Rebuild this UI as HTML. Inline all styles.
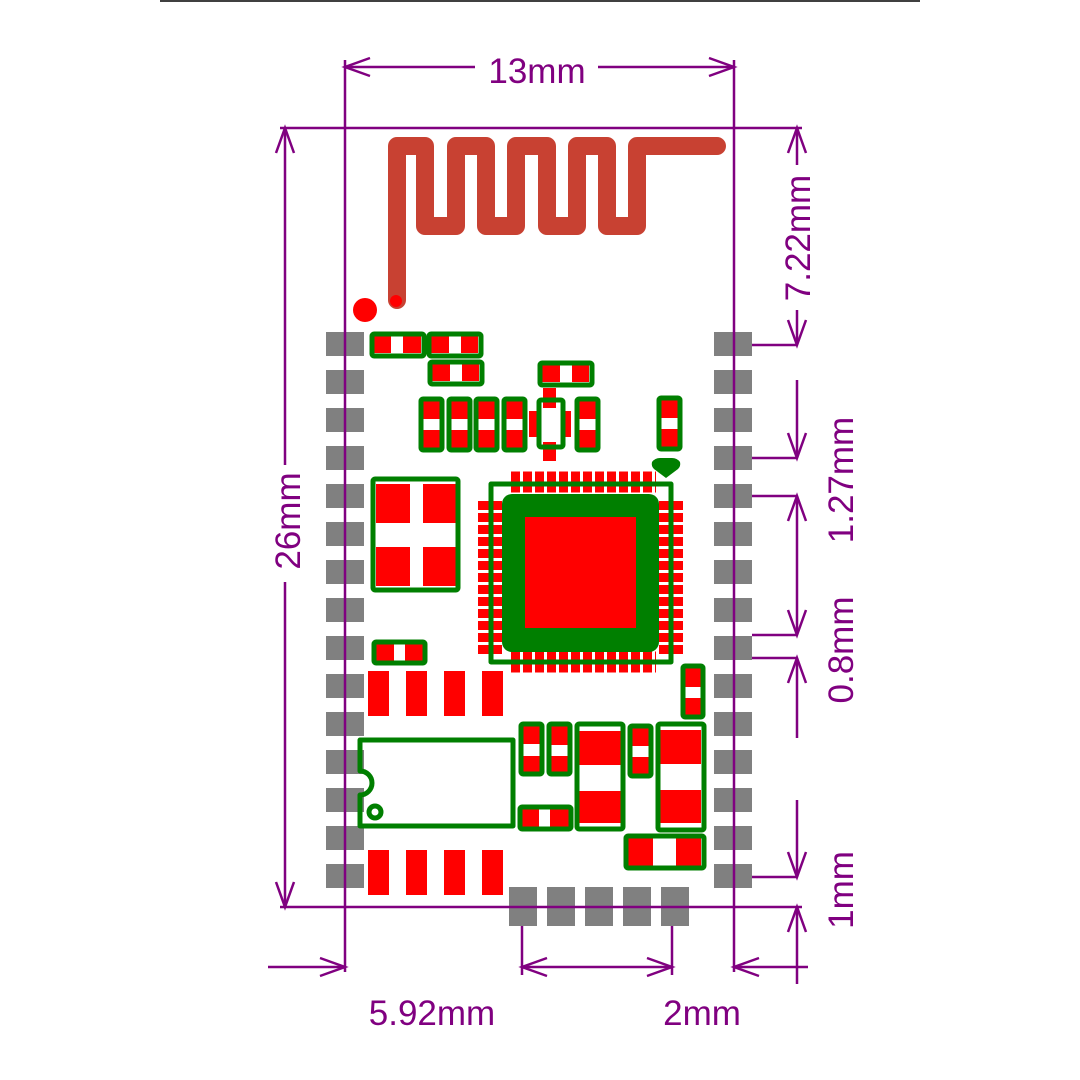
<!DOCTYPE html>
<html><head><meta charset="utf-8"><style>html,body{margin:0;padding:0;background:#fff}svg{display:block}</style></head><body>
<svg width="1080" height="1080" viewBox="0 0 1080 1080" xmlns="http://www.w3.org/2000/svg">
<rect width="1080" height="1080" fill="#fff"/>
<line x1="160" y1="1" x2="920" y2="1" stroke="#000" stroke-width="1.5"/>

<path d="M397 300 V146 H425 V226 H456 V146 H486 V226 H516 V146 H547 V226 H577 V146 H607 V226 H637 V146 H717" fill="none" stroke="#c84132" stroke-width="18" stroke-linecap="round" stroke-linejoin="round"/>
<circle cx="365" cy="310" r="12" fill="#f00"/>
<circle cx="396" cy="301" r="6" fill="#f00"/>

<g fill="#808080">
<rect x="326" y="332" width="38" height="24"/><rect x="326" y="370" width="38" height="24"/><rect x="326" y="408" width="38" height="24"/><rect x="326" y="446" width="38" height="24"/><rect x="326" y="484" width="38" height="24"/><rect x="326" y="522" width="38" height="24"/><rect x="326" y="560" width="38" height="24"/><rect x="326" y="598" width="38" height="24"/><rect x="326" y="636" width="38" height="24"/><rect x="326" y="674" width="38" height="24"/><rect x="326" y="712" width="38" height="24"/><rect x="326" y="750" width="38" height="24"/><rect x="326" y="788" width="38" height="24"/><rect x="326" y="826" width="38" height="24"/><rect x="326" y="864" width="38" height="24"/>
<rect x="714" y="332" width="38" height="24"/><rect x="714" y="370" width="38" height="24"/><rect x="714" y="408" width="38" height="24"/><rect x="714" y="446" width="38" height="24"/><rect x="714" y="484" width="38" height="24"/><rect x="714" y="522" width="38" height="24"/><rect x="714" y="560" width="38" height="24"/><rect x="714" y="598" width="38" height="24"/><rect x="714" y="636" width="38" height="24"/><rect x="714" y="674" width="38" height="24"/><rect x="714" y="712" width="38" height="24"/><rect x="714" y="750" width="38" height="24"/><rect x="714" y="788" width="38" height="24"/><rect x="714" y="826" width="38" height="24"/><rect x="714" y="864" width="38" height="24"/>
<rect x="509" y="887" width="28" height="39"/><rect x="547" y="887" width="28" height="39"/><rect x="585" y="887" width="28" height="39"/><rect x="623" y="887" width="28" height="39"/><rect x="661" y="887" width="28" height="39"/>
</g>

<g stroke="#800080" stroke-width="2.5" fill="none">
<line x1="345" y1="60" x2="345" y2="972"/>
<line x1="734" y1="60" x2="734" y2="972"/>
<line x1="280" y1="128" x2="802" y2="128"/>
<line x1="280" y1="907" x2="802" y2="907"/>
<line x1="345" y1="67" x2="475" y2="67"/><line x1="598" y1="67" x2="734" y2="67"/>
<path d="M370 58 L345 67 L370 76 M709 58 L734 67 L709 76"/>
<line x1="285" y1="128" x2="285" y2="465"/><line x1="285" y1="582" x2="285" y2="907"/>
<path d="M276 153 L285 128 L294 153 M276 882 L285 907 L294 882"/>
<line x1="797" y1="128" x2="797" y2="165"/><line x1="797" y1="310" x2="797" y2="345"/>
<path d="M788 153 L797 128 L806 153 M788 320 L797 345 L806 320"/>
<line x1="752" y1="345" x2="797" y2="345"/>
<line x1="797" y1="380" x2="797" y2="458"/><path d="M788 433 L797 458 L806 433"/>
<line x1="752" y1="458" x2="797" y2="458"/>
<line x1="752" y1="496" x2="797" y2="496"/>
<line x1="797" y1="496" x2="797" y2="635"/><path d="M788 521 L797 496 L806 521 M788 610 L797 635 L806 610"/>
<line x1="752" y1="635" x2="797" y2="635"/>
<line x1="752" y1="658" x2="797" y2="658"/>
<line x1="797" y1="658" x2="797" y2="738"/><path d="M788 683 L797 658 L806 683"/>
<line x1="797" y1="800" x2="797" y2="877"/><path d="M788 852 L797 877 L806 852"/>
<line x1="752" y1="877" x2="797" y2="877"/>
<line x1="797" y1="907" x2="797" y2="984"/><path d="M788 932 L797 907 L806 932"/>
<line x1="268" y1="967" x2="345" y2="967"/><path d="M320 958 L345 967 L320 976"/>
<line x1="734" y1="967" x2="808" y2="967"/><path d="M759 958 L734 967 L759 976"/>
<line x1="522" y1="926" x2="522" y2="975"/><line x1="672" y1="926" x2="672" y2="975"/>
<line x1="522" y1="967" x2="672" y2="967"/><path d="M547 958 L522 967 L547 976 M647 958 L672 967 L647 976"/>
</g>
<g fill="#800080" font-family="Liberation Sans, sans-serif" font-size="35">
<text x="537" y="83" text-anchor="middle">13mm</text>
<text x="432" y="1025" text-anchor="middle">5.92mm</text>
<text x="702" y="1025" text-anchor="middle">2mm</text>
<text transform="translate(300,521) rotate(-90)" text-anchor="middle">26mm</text>
<text transform="translate(810,238) rotate(-90)" text-anchor="middle">7.22mm</text>
<text transform="translate(853,480) rotate(-90)" text-anchor="middle">1.27mm</text>
<text transform="translate(853,650) rotate(-90)" text-anchor="middle">0.8mm</text>
<text transform="translate(853,890) rotate(-90)" text-anchor="middle">1mm</text>
</g>

<g fill="#f00">
<rect x="374" y="336" width="47" height="17"/><rect x="431" y="336" width="47" height="17"/><rect x="432" y="364" width="47" height="17"/><rect x="542" y="365" width="47" height="17"/>
<rect x="423" y="401" width="17" height="47"/><rect x="451" y="401" width="17" height="47"/><rect x="478" y="401" width="17" height="47"/><rect x="506" y="401" width="17" height="47"/><rect x="579" y="401" width="17" height="47"/><rect x="661" y="400" width="17" height="47"/>
<rect x="543" y="388" width="13" height="20"/><rect x="543" y="442" width="13" height="19"/><rect x="529" y="411" width="8" height="26"/><rect x="563" y="411" width="8" height="26"/>
<rect x="376" y="484" width="34" height="39"/><rect x="423" y="484" width="33" height="39"/><rect x="376" y="547" width="34" height="39"/><rect x="423" y="547" width="33" height="39"/>
<rect x="376" y="644" width="47" height="17"/>
<rect x="368" y="671" width="21" height="45"/><rect x="406" y="671" width="21" height="45"/><rect x="444" y="671" width="21" height="45"/><rect x="482" y="671" width="21" height="45"/>
<rect x="368" y="850" width="21" height="45"/><rect x="406" y="850" width="21" height="45"/><rect x="444" y="850" width="21" height="45"/><rect x="482" y="850" width="21" height="45"/>
<rect x="523" y="726" width="17" height="46"/><rect x="551" y="726" width="17" height="46"/><rect x="632" y="728" width="17" height="46"/><rect x="685" y="668" width="16" height="47"/>
<rect x="522" y="809" width="47" height="18"/>
<rect x="579" y="731" width="42" height="34"/><rect x="579" y="791" width="42" height="32"/>
<rect x="660" y="730" width="41" height="34"/><rect x="660" y="790" width="41" height="33"/>
<rect x="628" y="838" width="25" height="28"/><rect x="676" y="838" width="25" height="28"/>
</g>
<g fill="#fff">
<rect x="391" y="336" width="12" height="17"/><rect x="449" y="336" width="12" height="17"/><rect x="450" y="364" width="12" height="17"/><rect x="560" y="365" width="12" height="17"/>
<rect x="423" y="419" width="17" height="11"/><rect x="451" y="419" width="17" height="11"/><rect x="478" y="419" width="17" height="11"/><rect x="506" y="419" width="17" height="11"/><rect x="579" y="419" width="17" height="11"/><rect x="661" y="418" width="17" height="11"/>
<rect x="394" y="644" width="11" height="17"/>
<rect x="523" y="744" width="17" height="12"/><rect x="551" y="745" width="17" height="11"/><rect x="632" y="746" width="17" height="11"/><rect x="685" y="687" width="16" height="11"/>
<rect x="539" y="809" width="11" height="18"/>
</g>
<g stroke="#f00" fill="none">
<line x1="511" y1="482" x2="656" y2="482" stroke-width="21" stroke-dasharray="9 3"/>
<line x1="511" y1="662" x2="656" y2="662" stroke-width="21" stroke-dasharray="9 3"/>
<line x1="490" y1="501" x2="490" y2="657" stroke-width="24" stroke-dasharray="9 3"/>
<line x1="671" y1="501" x2="671" y2="657" stroke-width="24" stroke-dasharray="9 3"/>
</g>
<g fill="none" stroke="#007f00" stroke-width="5" stroke-linejoin="round">
<rect x="372" y="334" width="52" height="22" rx="2"/><rect x="429" y="334" width="52" height="22" rx="2"/><rect x="430" y="362" width="52" height="22" rx="2"/><rect x="540" y="363" width="52" height="22" rx="2"/>
<rect x="421" y="399" width="21" height="51" rx="2"/><rect x="449" y="399" width="21" height="51" rx="2"/><rect x="476" y="399" width="21" height="51" rx="2"/><rect x="504" y="399" width="21" height="51" rx="2"/><rect x="577" y="399" width="21" height="51" rx="2"/><rect x="659" y="398" width="21" height="51" rx="2"/>
<rect x="539" y="400" width="24" height="47" rx="2"/>
<rect x="373" y="479" width="85" height="111" rx="2"/>
<rect x="491" y="484" width="180" height="178"/>
<rect x="374" y="642" width="51" height="21" rx="2"/>
<path d="M360 740 H513 V826 H360 V795 A12 12 0 0 0 360 771 Z"/>
<circle cx="375" cy="812" r="6"/>
<rect x="521" y="724" width="21" height="50" rx="2"/><rect x="549" y="724" width="21" height="50" rx="2"/><rect x="630" y="726" width="21" height="50" rx="2"/><rect x="683" y="666" width="20" height="51" rx="2"/>
<rect x="520" y="807" width="51" height="22" rx="2"/>
<rect x="577" y="724" width="46" height="105" rx="2"/><rect x="658" y="724" width="46" height="106" rx="2"/>
<rect x="626" y="836" width="78" height="32" rx="2"/>
</g>
<rect x="502" y="494" width="157" height="158" rx="10" fill="#007f00"/>
<rect x="525" y="517" width="111" height="111" fill="#f00"/>
<path d="M652 462 Q655 458 660 458 H672 Q677 458 680 462 Q681 466 678 469 L666 478 L654 469 Q651 466 652 462 Z" fill="#007f00"/>
</svg>
</body></html>
